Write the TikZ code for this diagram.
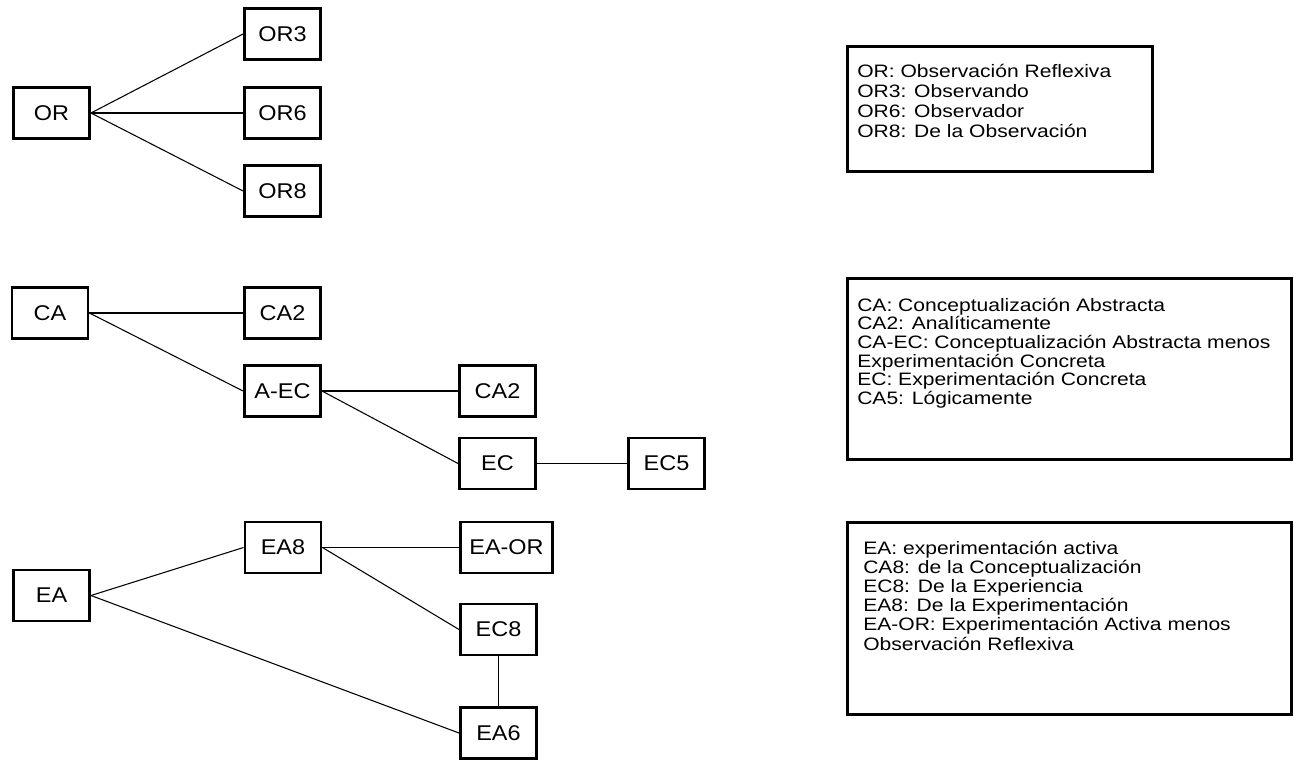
\documentclass[tikz,border=0pt]{standalone}
\usepackage{fontspec}
\setmainfont{Liberation Sans}
\newfontfamily\boxfont{Liberation Sans}[FakeStretch=1.1]
\newfontfamily\legfont{Liberation Sans}[FakeStretch=1.17]
\begin{document}
\begin{tikzpicture}[x=0.75pt,y=-0.75pt,
  box/.style={draw, line width=2.2pt, inner sep=0pt, minimum width=57pt, minimum height=38.25pt,
    font=\boxfont\fontsize{16}{19}\selectfont},
  wbox/.style={box, minimum width=69pt},
  link/.style={line width=0.8pt},
  legbox/.style={draw, line width=2.2pt, inner sep=0pt},
  legtext/.style={anchor=base west, inner sep=0pt, font=\legfont\fontsize{13.5}{16}\selectfont}]
\useasboundingbox (0,0) rectangle (1294,760);

% group OR
\node[box] (OR) at (51.5,113) {OR};
\node[box] (OR3) at (282.5,34) {OR3};
\node[box] (OR6) at (282.5,113) {OR6};
\node[box] (OR8) at (282.5,191) {OR8};
\draw[link] (OR.east) -- (OR3.west);
\draw[link] (OR.east) -- (OR6.west);
\draw[link] (OR.east) -- (OR8.west);

% group CA
\node[box] (CA) at (50,313) {CA};
\node[box] (CA2a) at (282.5,313) {CA2};
\node[box] (AEC) at (282.5,391) {A-EC};
\node[box] (CA2b) at (497.5,391) {CA2};
\node[box] (EC) at (497.5,463.5) {EC};
\node[box] (EC5) at (666.5,463.5) {EC5};
\draw[link] (CA.east) -- (CA2a.west);
\draw[link] (CA.east) -- (AEC.west);
\draw[link] (AEC.east) -- (CA2b.west);
\draw[link] (AEC.east) -- (EC.west);
\draw[link] (EC.east) -- (EC5.west);

% group EA
\node[box] (EA) at (51.5,595.5) {EA};
\node[box] (EA8) at (283,547.5) {EA8};
\node[wbox] (EAOR) at (506.5,547.5) {EA-OR};
\node[box] (EC8) at (498.5,629.5) {EC8};
\node[box] (EA6) at (498.5,733) {EA6};
\draw[link] (EA.east) -- (EA8.west);
\draw[link] (EA.east) -- (EA6.west);
\draw[link] (EA8.east) -- (EAOR.west);
\draw[link] (EA8.east) -- (EC8.west);
\draw[link] (EC8.south) -- (EA6.north);

% legends
\node[legbox, minimum width=228.75pt, minimum height=93.75pt] (L1) at (1000,109) {};
\node[legbox, minimum width=333pt, minimum height=135.75pt] (L2) at (1069.5,369) {};
\node[legbox, minimum width=333pt, minimum height=144pt] (L3) at (1069.5,618.5) {};

\foreach \t [count=\i] in {OR: Observación Reflexiva, OR3: Observando, OR6: Observador, OR8: De la Observación}
  \node[legtext] (la\i) at (857,{77+20*(\i-1)}) {\t};
\foreach \t [count=\i] in {CA: Conceptualización Abstracta, CA2: Analíticamente, CA-EC: Conceptualización Abstracta menos, Experimentación Concreta, EC: Experimentación Concreta, CA5: Lógicamente}
  \node[legtext] (lb\i) at (857,{311+18.7*(\i-1)}) {\t};
\foreach \t [count=\i] in {EA: experimentación activa, CA8: de la Conceptualización, EC8: De la Experiencia, EA8: De la Experimentación, EA-OR: Experimentación Activa menos, Observación Reflexiva}
  \node[legtext] (lc\i) at (863,{554+19.2*(\i-1)}) {\t};
\end{tikzpicture}
\end{document}
